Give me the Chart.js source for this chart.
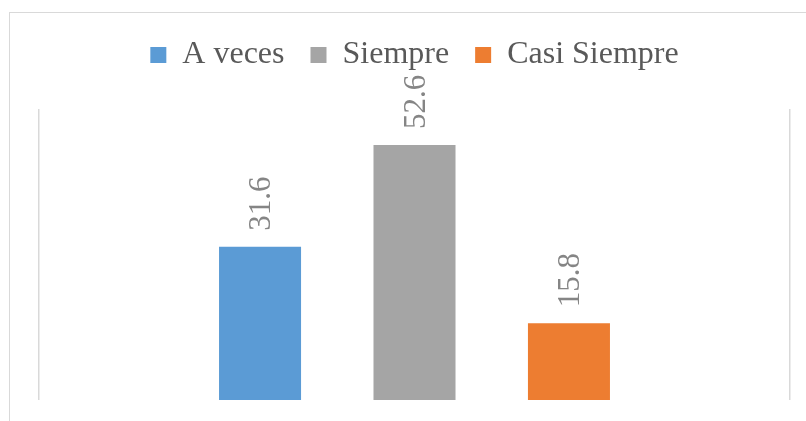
<!DOCTYPE html>
<html>
<head>
<meta charset="utf-8">
<script src="https://cdn.jsdelivr.net/npm/chart.js@4.4.1/dist/chart.umd.min.js"></script>
<style>
  html, body { margin: 0; padding: 0; background: #fff; overflow: hidden; }
  #frame { position: absolute; left: 9px; top: 12px; width: 840px; height: 440px; border: 1px solid #d9d9d9; }
  #wrap { position: absolute; left: 0; top: 0; width: 806px; height: 421px; }
</style>
</head>
<body>
<div id="frame"></div>
<div id="wrap"><canvas id="chart"></canvas></div>
<script>
var categories = ["A veces", "Siempre", "Casi Siempre"];
var values = [31.6, 52.6, 15.8];
var colors = ["#5b9bd5", "#a5a5a5", "#ed7d31"];

var TOP_PAD = 13;

// make the legend block tall enough so the plot starts lower
var legendSpace = {
    id: "legendSpace",
    beforeInit: function (chart) {
        var fit = chart.legend.fit;
        chart.legend.fit = function () {
            fit.bind(chart.legend)();
            this.height = 109 - TOP_PAD;
        };
    }
};

// draws the rotated value above each bar
var valueLabels = {
    id: "valueLabels",
    afterDatasetsDraw: function (chart) {
        var ctx = chart.ctx;
        ctx.save();
        ctx.font = "31px 'Liberation Serif'";
        ctx.fillStyle = "#858585";
        ctx.textAlign = "left";
        ctx.textBaseline = "middle";
        chart.data.datasets.forEach(function (ds, i) {
            var bar = chart.getDatasetMeta(i).data[0];
            ctx.save();
            ctx.translate(bar.x + 2, bar.y - 16);
            ctx.rotate(-Math.PI / 2);
            ctx.fillText(ds.data[0].toFixed(1), 0, 0);
            ctx.restore();
        });
        ctx.restore();
    }
};

var ctx = document.getElementById("chart").getContext("2d");
var chart = new Chart(ctx, {
    type: "bar",
    data: {
        labels: [""],
        datasets: categories.map(function (name, i) {
            return {
                label: name,
                data: [values[i]],
                backgroundColor: colors[i],
                borderWidth: 0,
                categoryPercentage: 0.617,
                barPercentage: 0.531
            };
        })
    },
    options: {
        responsive: true,
        maintainAspectRatio: false,
        animation: false,
        layout: { padding: { top: TOP_PAD, left: 39, right: 16, bottom: 21 } },
        plugins: {
            tooltip: { enabled: false },
            legend: {
                position: "top",
                labels: {
                    boxWidth: 16,
                    boxHeight: 16,
                    padding: 26,
                    color: "#595959",
                    font: { family: "'Liberation Serif'", size: 32 }
                }
            }
        },
        scales: {
            x: {
                grid: { display: true, offset: true, color: "#d9d9d9", lineWidth: 1.5, drawTicks: false },
                border: { display: false },
                ticks: { display: false }
            },
            y: {
                display: false,
                min: 0,
                max: 60
            }
        }
    },
    plugins: [legendSpace, valueLabels]
});
</script>
</body>
</html>
